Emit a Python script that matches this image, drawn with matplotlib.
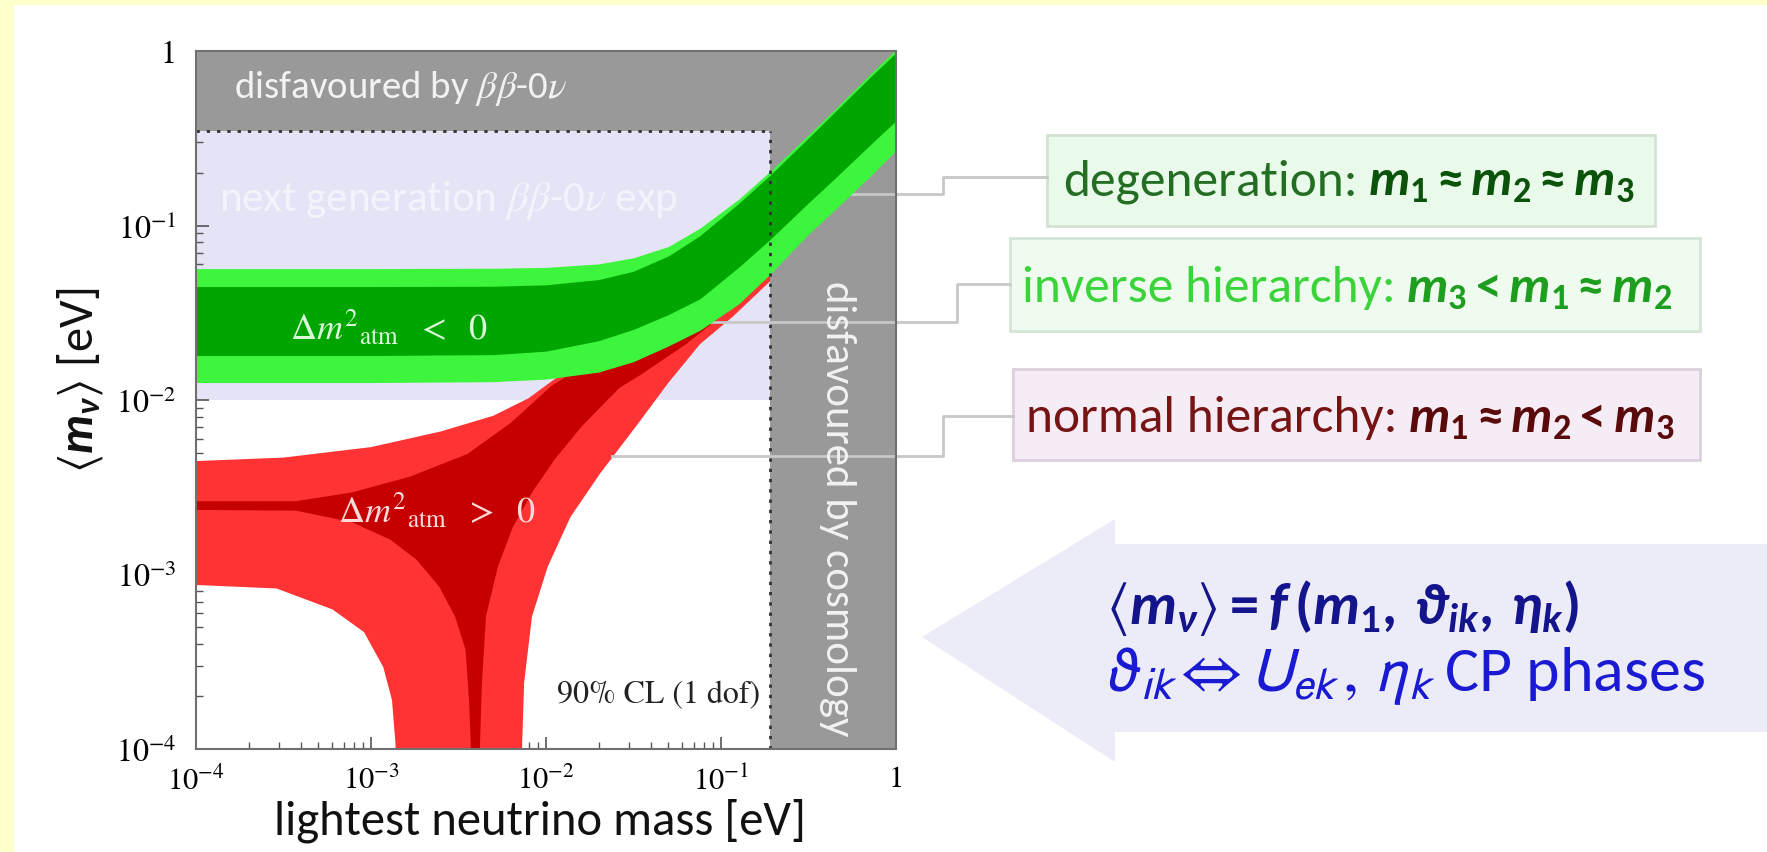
import matplotlib
matplotlib.use('Agg')
import matplotlib.pyplot as plt
import numpy as np
from matplotlib.patches import Rectangle, Polygon
from matplotlib.ticker import NullFormatter

plt.rcParams['mathtext.fontset'] = 'custom'
plt.rcParams['mathtext.rm'] = 'Carlito:bold'
plt.rcParams['mathtext.it'] = 'Carlito:italic:bold'
plt.rcParams['mathtext.bf'] = 'Carlito:bold'
plt.rcParams['mathtext.fallback'] = 'stixsans'

# all band edges are log10 of the mass in eV
# inverted hierarchy (green), common grid of lightest mass
ih_logm = [-4.0, -3.0, -2.3, -2.0, -1.7, -1.5, -1.3, -1.12, -0.9, -0.72, -0.5, -0.36, -0.15, 0.0]
ih_outer_lo = [-1.90, -1.90, -1.895, -1.88, -1.84, -1.78, -1.69, -1.60, -1.45, -1.28, -1.05, -0.92, -0.72, -0.57]
ih_outer_hi = [-1.247, -1.247, -1.245, -1.24, -1.22, -1.185, -1.12, -1.015, -0.85, -0.69, -0.48, -0.345, -0.135, 0.01]
ih_inner_lo = [-1.745, -1.745, -1.74, -1.72, -1.66, -1.595, -1.51, -1.42, -1.24, -1.08, -0.87, -0.74, -0.54, -0.40]
ih_inner_hi = [-1.35, -1.35, -1.348, -1.34, -1.31, -1.262, -1.174, -1.058, -0.874, -0.712, -0.498, -0.36, -0.152, -0.01]

# normal hierarchy (red) outlines, walked round as closed shapes
nh_outer_logm = [-4.0, -3.5, -3.0, -2.6, -2.3, -2.1, -1.95, -1.7, -1.4, -1.0, -0.72,
                 -0.72, -0.93, -1.12, -1.3, -1.47, -1.69, -1.86, -1.99, -2.08, -2.125, -2.137, -2.14,
                 -2.857, -2.86, -2.88, -2.93, -3.04, -3.22, -3.54, -4.0]
nh_outer_logmbb = [-2.35, -2.33, -2.27, -2.18, -2.09, -1.99, -1.88, -1.7, -1.5, -1.2, -0.95,
                   -1.32, -1.52, -1.68, -1.9, -2.13, -2.42, -2.67, -2.955, -3.24, -3.62, -4.0, -4.3,
                   -4.3, -3.97, -3.72, -3.53, -3.33, -3.20, -3.08, -3.06]
nh_inner_logm = [-4.0, -3.43, -3.11, -2.78, -2.45, -2.2, -1.97, -1.75, -1.5, -1.2, -0.95, -0.72,
                 -0.72, -0.95, -1.2, -1.45, -1.58, -1.795, -1.95, -2.08, -2.19, -2.275, -2.343, -2.366, -2.377, -2.38,
                 -2.43, -2.43, -2.44, -2.46, -2.52, -2.61, -2.74, -2.89, -3.11, -3.43, -4.0]
nh_inner_logmbb = [-2.58, -2.58, -2.53, -2.44, -2.31, -2.13, -1.92, -1.78, -1.62, -1.4, -1.2, -1.0,
                   -1.25, -1.48, -1.68, -1.85, -1.93, -2.15, -2.34, -2.53, -2.73, -2.955, -3.24, -3.62, -3.97, -4.3,
                   -4.3, -3.97, -3.72, -3.43, -3.24, -3.07, -2.915, -2.80, -2.70, -2.634, -2.63]

# excluded / reachable regions [eV]
bb0v_limit = 0.35
cosmo_limit = 0.19
next_gen_reach = 0.01

tick_vals = [1e-4, 1e-3, 1e-2, 1e-1, 1]
tick_text = [r'$10^{-4}$', r'$10^{-3}$', r'$10^{-2}$', r'$10^{-1}$', '1']

W, H = 1767, 853
fig = plt.figure(figsize=(W / 100, H / 100), dpi=100, facecolor='#FFFFCC')

# slide background, boxes and arrow, in pixel units
bg = fig.add_axes([0, 0, 1, 1], zorder=0)
bg.set_xlim(0, W)
bg.set_ylim(H, 0)
bg.axis('off')
bg.add_patch(Rectangle((14, 6), W - 14, H - 6, color='white', lw=0))

bg.add_patch(Polygon([(922, 638), (1115, 520), (1115, 545), (W, 545), (W, 733),
                      (1115, 733), (1115, 763)], closed=True, color='#ECECF8', lw=0))

bg.add_patch(Rectangle((1047, 136), 608, 91, fc='#EAFAEA', ec='#D3E3D3', lw=2))
bg.add_patch(Rectangle((1010, 239), 690, 93, fc='#EEFBEE', ec='#D6E6D6', lw=2))
bg.add_patch(Rectangle((1013, 370), 687, 91, fc='#F6ECF6', ec='#DCD0DC', lw=2))

renderer = fig.canvas.get_renderer()


def two_tone(x, y, plain, math, c1, c2, size=37, gap=10):
    t1 = bg.text(x, y, plain, color=c1, fontsize=size, family='Carlito', va='baseline')
    bb = t1.get_window_extent(renderer=renderer)
    x2 = bg.transData.inverted().transform((bb.x1, bb.y0))[0] + gap
    bg.text(x2, y, math, color=c2, fontsize=size, va='baseline', math_fontfamily='custom')


two_tone(1063, 195, 'degeneration:', r'$m_1 \approx m_2 \approx m_3$', '#236E23', '#0B520B')
two_tone(1022, 302, 'inverse hierarchy:', r'$m_3 < m_1 \approx m_2$', '#3AD43A', '#1E9E1E')
two_tone(1026, 432, 'normal hierarchy:', r'$m_1 \approx m_2 < m_3$', '#761414', '#5A0A0A')

bg.text(1106, 624, r'$\langle m_{\nu}\rangle = f\,(m_1,\, \vartheta_{ik},\, \eta_k)$',
        color='#14148C', fontsize=42, va='baseline', math_fontfamily='custom')
bg.text(1106, 691, r'$\vartheta_{ik} \Leftrightarrow U_{ek}\,,\, \eta_k$ CP phases',
        color='#1A1AD2', fontsize=46, va='baseline', family='Carlito', math_fontfamily='stixsans')

bg.text(540, 821, 'lightest neutrino mass [eV]', fontsize=35, family='Carlito',
        ha='center', va='center', color='#111111')
bg.text(80, 380, r'$\langle m_{\nu}\rangle$ [eV]', fontsize=35, family='Carlito',
        ha='center', va='center', rotation=90, color='#111111', math_fontfamily='custom')

# the m_bb plot itself
ax = fig.add_axes([196 / W, (H - 750) / H, 700 / W, 698 / H], zorder=1)
ax.set_xscale('log')
ax.set_yscale('log')
ax.set_xlim(1e-4, 1)
ax.set_ylim(1e-4, 1)

ax.fill_between([1e-4, cosmo_limit], next_gen_reach, bb0v_limit, color='#E4E4F6', lw=0, zorder=1)
ax.fill(10 ** np.array(nh_outer_logm), 10 ** np.array(nh_outer_logmbb), color='#FF3333', lw=0, zorder=2)
ax.fill(10 ** np.array(nh_inner_logm), 10 ** np.array(nh_inner_logmbb), color='#C60000', lw=0, zorder=2.1)
ax.axhspan(bb0v_limit, 1, color='#999999', lw=0, zorder=3)
ax.axvspan(cosmo_limit, 1, color='#999999', lw=0, zorder=3)

m = 10 ** np.array(ih_logm)
ax.fill_between(m, 10 ** np.array(ih_outer_lo), 10 ** np.array(ih_outer_hi), color='#3CF53C', lw=0, zorder=4)
ax.fill_between(m, 10 ** np.array(ih_inner_lo), 10 ** np.array(ih_inner_hi), color='#00A500', lw=0, zorder=4.1)

ax.plot([1e-4, cosmo_limit], [bb0v_limit, bb0v_limit], color='#333333', lw=2, ls=(0, (1.2, 2.5)), zorder=5)
ax.plot([cosmo_limit, cosmo_limit], [1e-4, bb0v_limit], color='#333333', lw=2, ls=(0, (1.2, 2.5)), zorder=5)


def px(x, y):
    # slide pixel -> data coordinates of the plot
    return 10 ** (-4 + (x - 196) / 175), 10 ** (-4 + (750 - y) / 174.5)


for path in ([(850, 195), (943, 195), (943, 178), (1047, 178)],
             [(690, 323), (957, 323), (957, 285), (1010, 285)],
             [(612, 457), (943, 457), (943, 417), (1013, 417)]):
    xs, ys = zip(*[px(*p) for p in path])
    ax.plot(xs, ys, color='#C8C8C8', lw=2, zorder=3.5, clip_on=False)

ax.text(10 ** -3.78, 10 ** -0.207, r'disfavoured by $\beta\beta$-0$\nu$', fontsize=28, family='Carlito',
        color='#F2F2F2', va='center', zorder=6, math_fontfamily='stix')
ax.text(10 ** -3.87, 10 ** -0.849, r'next generation $\beta\beta$-0$\nu$ exp', fontsize=31, family='Carlito',
        color='#F3F3FB', va='center', zorder=6, math_fontfamily='stix')
ax.text(10 ** -0.337, 10 ** -2.62, 'disfavoured by cosmology', fontsize=31, family='Carlito',
        color='#F2F2F2', rotation=-90, ha='center', va='center', zorder=6)
ax.text(10 ** -3.46, 10 ** -1.578, r'$\Delta m^{2}{}_{\mathrm{atm}}\ \ <\ \ 0$', fontsize=26,
        color='#D8F8D8', va='center', zorder=6, math_fontfamily='stix')
ax.text(10 ** -3.19, 10 ** -2.628, r'$\Delta m^{2}{}_{\mathrm{atm}}\ \ >\ \ 0$', fontsize=26,
        color='#FFDADA', va='center', zorder=6, math_fontfamily='stix')
ax.text(10 ** -0.777, 10 ** -3.69, '90% CL (1 dof)', fontsize=23, family='TeX Gyre Termes',
        color='#222222', ha='right', va='center', zorder=6)

ax.set_xticks(tick_vals)
ax.set_yticks(tick_vals)
ax.set_xticklabels(tick_text, fontsize=22, family='TeX Gyre Termes', math_fontfamily='stix')
ax.set_yticklabels(tick_text, fontsize=23, family='TeX Gyre Termes', math_fontfamily='stix')
ax.xaxis.set_minor_formatter(NullFormatter())
ax.yaxis.set_minor_formatter(NullFormatter())
ax.tick_params(which='both', direction='in', top=True, right=True, color='#555555')
ax.tick_params(which='major', length=9, width=1.2)
ax.tick_params(which='minor', length=5, width=1)
ax.tick_params(axis='x', pad=12)
ax.tick_params(axis='y', pad=14)
for s in ax.spines.values():
    s.set_color('#707070')
    s.set_linewidth(1.5)
    s.set_zorder(7)

fig.savefig('out.png', dpi=100, facecolor=fig.get_facecolor())
